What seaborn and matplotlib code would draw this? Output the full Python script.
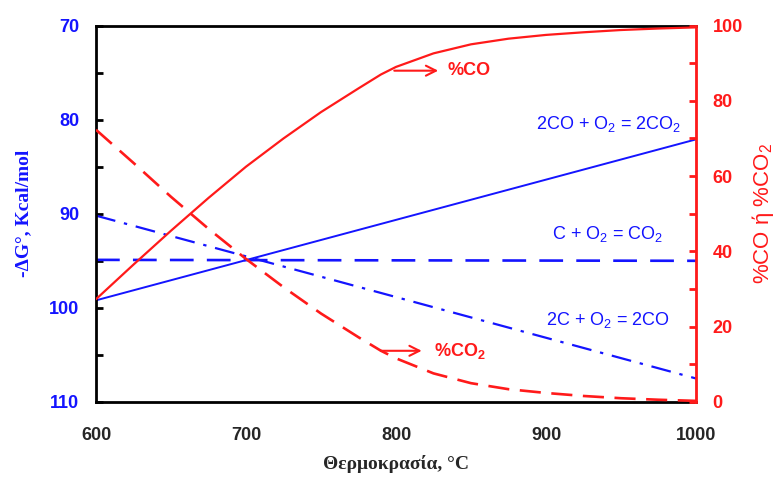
import matplotlib
matplotlib.use("Agg")
import pandas as pd
import matplotlib.pyplot as plt
import seaborn as sns
from matplotlib.ticker import MultipleLocator

# free energy lines (-dG, kcal/mol) at the two ends of the range
temps_line = [600, 1000]
dg_2co_o2 = [99.2, 82.1]
dg_c_o2 = [94.9, 95.0]
dg_2c_o2 = [90.2, 107.5]

# gas composition over carbon
temps_gas = [600, 625, 650, 675, 700, 725, 750, 775, 790, 800, 825, 850, 875, 900, 925, 950, 975, 1000]
pct_co = [27.3, 36.5, 45.5, 54.2, 62.5, 70, 77, 83.3, 87, 89, 92.6, 95, 96.5, 97.5, 98.2, 98.8, 99.2, 99.5]
pct_co2 = [72.3, 63.5, 54.5, 46, 38, 30.5, 23.5, 17.2, 13.6, 11.6, 7.6, 5, 3.4, 2.4, 1.6, 1.0, 0.6, 0.3]

blue = "#1414ff"
red = "#ff1a1a"

sns.set_style("white")
plt.rcParams["font.family"] = ["Liberation Sans", "DejaVu Sans"]
plt.rcParams["mathtext.default"] = "regular"

lines_df = pd.DataFrame({"T": temps_line, "a": dg_2co_o2, "b": dg_c_o2, "c": dg_2c_o2})
gas_df = pd.DataFrame({"T": temps_gas, "co": pct_co, "co2": pct_co2})

fig = plt.figure(figsize=(7.82, 4.82), dpi=100)
ax = fig.add_axes([96 / 782, 1 - 402 / 482, 600 / 782, 376.5 / 482])
ax2 = ax.twinx()

sns.lineplot(data=lines_df, x="T", y="a", ax=ax, color=blue, lw=1.4)
sns.lineplot(data=lines_df, x="T", y="b", ax=ax, color=blue, lw=1.9)
ax.lines[-1].set_dashes((9, 5))
sns.lineplot(data=lines_df, x="T", y="c", ax=ax, color=blue, lw=1.6)
ax.lines[-1].set_dashes((9, 4, 1.5, 4))

sns.lineplot(data=gas_df, x="T", y="co", ax=ax2, color=red, lw=1.6)
sns.lineplot(data=gas_df, x="T", y="co2", ax=ax2, color=red, lw=1.9)
ax2.lines[-1].set_dashes((8, 4))

ax.set_xlim(600, 1000)
ax.set_ylim(110, 70)
ax2.set_ylim(0, 100)

ax.xaxis.set_major_locator(MultipleLocator(100))
ax.xaxis.set_minor_locator(MultipleLocator(50))
ax.yaxis.set_major_locator(MultipleLocator(10))
ax.yaxis.set_minor_locator(MultipleLocator(5))
ax2.yaxis.set_major_locator(MultipleLocator(20))
ax2.yaxis.set_minor_locator(MultipleLocator(10))

ax.tick_params(axis="both", which="both", direction="in", length=5, width=2, color="black")
ax.tick_params(axis="x", which="major", pad=18, labelsize=13)
ax.tick_params(axis="y", which="major", pad=12, labelsize=13, labelcolor=blue)
ax2.tick_params(axis="y", which="both", direction="in", length=5, width=2, color=red)
ax2.tick_params(axis="y", which="major", pad=12, labelsize=13, labelcolor=red)
for lab in ax.get_xticklabels() + ax.get_yticklabels() + ax2.get_yticklabels():
    lab.set_fontweight("bold")

for side in ["left", "bottom", "top"]:
    ax.spines[side].set_color("black")
    ax.spines[side].set_linewidth(2)
ax2.spines["right"].set_color(red)
ax2.spines["right"].set_linewidth(2)
for side in ["left", "bottom", "top"]:
    ax2.spines[side].set_visible(False)

ax.set_xlabel("Θερμοκρασία, °C", family=["Liberation Serif"], fontweight="bold", fontsize=14, labelpad=8)
ax.set_ylabel("-ΔG°, Kcal/mol", family=["Liberation Serif"], fontweight="bold", fontsize=14, color=blue, labelpad=12)
ax2.set_ylabel("%CO ή %CO$_2$", fontsize=16, color=red, labelpad=5)

ax.text(942, 80.5, "2CO + O$_2$ = 2CO$_2$", color=blue, fontsize=13, ha="center", va="center")
ax.text(941, 92.2, "C + O$_2$ = CO$_2$", color=blue, fontsize=13, ha="center", va="center")
ax.text(941, 101.3, "2C + O$_2$ = 2CO", color=blue, fontsize=13, ha="center", va="center")

ax2.annotate("", xy=(830, 88), xytext=(797, 88),
             arrowprops=dict(arrowstyle="->", color=red, lw=1.5, mutation_scale=18))
ax2.text(834, 88, "%CO", color=red, fontsize=13, fontweight="bold", va="center")
ax2.annotate("", xy=(819, 13.6), xytext=(788, 13.6),
             arrowprops=dict(arrowstyle="->", color=red, lw=1.5, mutation_scale=18))
ax2.text(825, 13.6, "%CO$_2$", color=red, fontsize=13, fontweight="bold", va="center")

fig.savefig("out.png", dpi=100)
